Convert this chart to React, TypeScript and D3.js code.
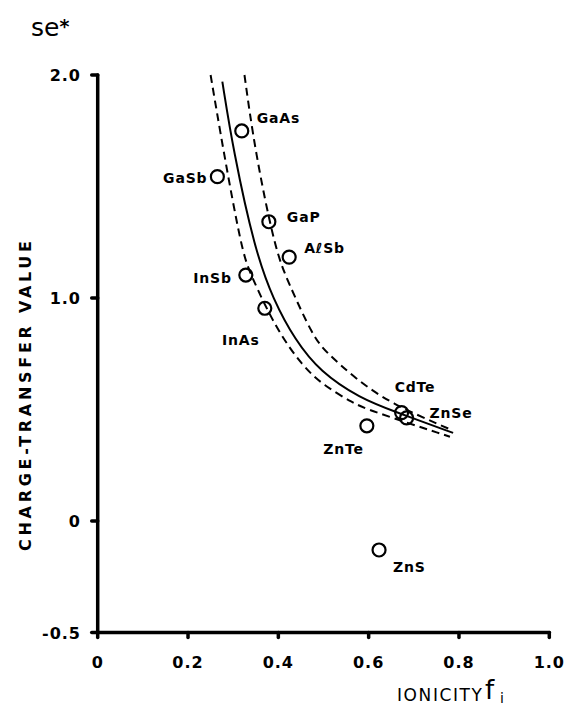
import React from 'react';
import * as d3 from 'd3';

// compounds: name, ionicity, charge-transfer value
const compounds = ['GaAs', 'GaSb', 'GaP', 'AℓSb', 'InSb', 'InAs', 'CdTe', 'ZnSe', 'ZnTe', 'ZnS'];
const ionicity = [0.319, 0.265, 0.379, 0.424, 0.328, 0.370, 0.673, 0.684, 0.596, 0.623];
const chargeTransfer = [1.749, 1.544, 1.342, 1.183, 1.103, 0.954, 0.486, 0.462, 0.427, -0.130];

// fitted curve and its bounds
const fitX = [0.276, 0.300, 0.348, 0.389, 0.437, 0.492, 0.581, 0.658, 0.787];
const fitY = [1.970, 1.664, 1.215, 0.991, 0.812, 0.670, 0.550, 0.490, 0.395];
const lowX = [0.250, 0.278, 0.319, 0.337, 0.396, 0.455, 0.499, 0.566, 0.603, 0.780];
const lowY = [2.000, 1.664, 1.215, 1.111, 0.857, 0.692, 0.610, 0.528, 0.495, 0.378];
const highX = [0.325, 0.348, 0.393, 0.421, 0.477, 0.507, 0.570, 0.647, 0.784];
const highY = [2.000, 1.664, 1.215, 1.075, 0.825, 0.755, 0.640, 0.528, 0.408];

const xTicks = [0, 0.2, 0.4, 0.6, 0.8, 1.0];
const xTickLabels = ['0', '0.2', '0.4', '0.6', '0.8', '1.0'];
const yTicks = [2.0, 1.0, 0, -0.5];
const yTickLabels = ['2.0', '1.0', '0', '-0.5'];

// label placement relative to each marker (px)
const labelPos: Record<string, { dx: number; dy: number; anchor: string }> = {
  GaAs: { dx: 15, dy: -8, anchor: 'start' },
  GaSb: { dx: -10, dy: 6, anchor: 'end' },
  GaP: { dx: 18, dy: 0, anchor: 'start' },
  'AℓSb': { dx: 15, dy: -4, anchor: 'start' },
  InSb: { dx: -14, dy: 8, anchor: 'end' },
  InAs: { dx: -24, dy: 37, anchor: 'middle' },
  CdTe: { dx: -7, dy: -21, anchor: 'start' },
  ZnSe: { dx: 23, dy: 0, anchor: 'start' },
  ZnTe: { dx: -3, dy: 28, anchor: 'end' },
  ZnS: { dx: 14, dy: 22, anchor: 'start' },
};

const W = 566;
const H = 707;
const FONT = '"DejaVu Sans", sans-serif';

const App: React.FC = () => {
  const x = d3.scaleLinear().domain([0, 1]).range([97.7, 549.3]);
  const y = d3.scaleLinear().domain([-0.5, 2]).range([632.5, 75]);

  const line = d3.line<[number, number]>()
    .x(d => x(d[0]))
    .y(d => y(d[1]))
    .curve(d3.curveBasis);

  const fit = line(fitX.map((v, i) => [v, fitY[i]]));
  const low = line(lowX.map((v, i) => [v, lowY[i]]));
  const high = line(highX.map((v, i) => [v, highY[i]]));

  const x0 = x(0);
  const yBase = y(-0.5);

  return (
    <svg width={W} height={H} style={{ position: 'absolute', left: 0, top: 0, background: '#fff' }}>
      {/* y label "se*" */}
      <text x={31} y={36} fontFamily={FONT} fontSize={25} fill="#000">
        se<tspan fontSize={19} fontWeight="bold" dy={-3}>*</tspan>
      </text>

      {/* axes */}
      <g stroke="#000" strokeWidth={3.5} strokeLinecap="round" fill="none">
        <line x1={x0} x2={x0} y1={y(2)} y2={yBase} />
        <line x1={x0} x2={x(1)} y1={yBase} y2={yBase} />
        {yTicks.map(t => (
          <line key={'yt' + t} x1={x0 - 6} x2={x0} y1={y(t)} y2={y(t)} />
        ))}
        {xTicks.map(t => (
          <line key={'xt' + t} x1={x(t)} x2={x(t)} y1={yBase} y2={yBase + 5} />
        ))}
      </g>

      {/* tick labels */}
      <g fontFamily={FONT} fontWeight="bold" fontSize={16} letterSpacing={1} fill="#000">
        {yTicks.map((t, i) => (
          <text key={'yl' + t} x={81} y={y(t) + 6} textAnchor="end">{yTickLabels[i]}</text>
        ))}
        {xTicks.map((t, i) => (
          <text key={'xl' + t} x={x(t)} y={668} textAnchor="middle">{xTickLabels[i]}</text>
        ))}
      </g>

      {/* axis titles */}
      <text
        transform="translate(31,396) rotate(-90)"
        textAnchor="middle"
        fontFamily={FONT}
        fontWeight="bold"
        fontSize={16}
        textLength={310}
        lengthAdjust="spacing"
        fill="#000"
      >
        CHARGE-TRANSFER VALUE
      </text>
      <text x={397} y={701} fontFamily={FONT} fontSize={17} textLength={85} lengthAdjust="spacing" fill="#000">
        IONICITY
      </text>
      <text x={485} y={699} fontFamily={FONT} fontSize={26} fill="#000">f</text>
      <text x={500} y={703} fontFamily={FONT} fontSize={14} fill="#000">i</text>

      {/* curves */}
      <path d={fit ?? ''} fill="none" stroke="#000" strokeWidth={2} />
      <path d={low ?? ''} fill="none" stroke="#000" strokeWidth={2} strokeDasharray="8,5" />
      <path d={high ?? ''} fill="none" stroke="#000" strokeWidth={2} strokeDasharray="8,5" />

      {/* data points */}
      {compounds.map((c, i) => {
        const p = labelPos[c];
        const cx = x(ionicity[i]);
        const cy = y(chargeTransfer[i]);
        return (
          <g key={c}>
            <circle cx={cx} cy={cy} r={6.5} fill="none" stroke="#000" strokeWidth={2.2} />
            <text
              x={cx + p.dx}
              y={cy + p.dy}
              textAnchor={p.anchor}
              fontFamily={FONT}
              fontWeight="bold"
              fontSize={14}
              letterSpacing={0.8}
              fill="#000"
            >
              {c}
            </text>
          </g>
        );
      })}
    </svg>
  );
};

export default App;
